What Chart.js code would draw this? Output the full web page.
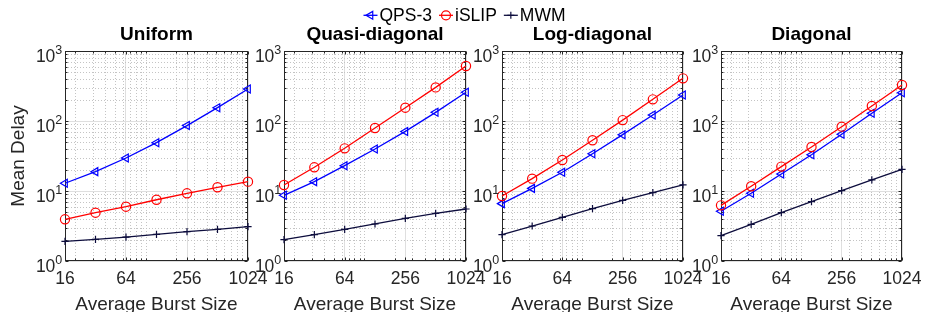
<!DOCTYPE html>
<html><head><meta charset="utf-8">
<script src="https://cdn.jsdelivr.net/npm/chart.js@4.4.1/dist/chart.umd.min.js"></script>
<style>
html,body{margin:0;padding:0;background:#fff;overflow:hidden;width:925px;height:312px;}
canvas{position:absolute;left:0;top:0;}
</style></head><body>
<canvas id="c0" width="940" height="320"></canvas>
<canvas id="c1" width="940" height="320"></canvas>
<canvas id="c2" width="940" height="320"></canvas>
<canvas id="c3" width="940" height="320"></canvas>
<script>
// ---------------- data ----------------
const burstSizes = [16, 32, 64, 128, 256, 512, 1024];
const panelTitles = ['Uniform', 'Quasi-diagonal', 'Log-diagonal', 'Diagonal'];
const seriesNames = ['QPS-3', 'iSLIP', 'MWM'];
const xTickValues = [16, 64, 256, 1024];
const yTickValues = [1, 10, 100, 1000];

const uniformQPS3  = [12.9, 18.9, 29.6, 49, 86, 155, 286];
const uniformISLIP = [3.94, 4.9, 5.97, 7.5, 9.27, 11.3, 13.6];
const uniformMWM   = [1.91, 2.04, 2.2, 2.4, 2.62, 2.83, 3.09];

const quasiQPS3  = [8.68, 13.6, 23, 39.8, 71, 133, 257];
const quasiISLIP = [12.2, 21.8, 40.7, 79.5, 155, 302, 611];
const quasiMWM   = [2.02, 2.38, 2.83, 3.38, 4.07, 4.8, 5.53];

const logQPS3  = [6.6, 10.9, 18.5, 34, 63.8, 122, 235];
const logISLIP = [8.48, 15, 27.7, 53, 103, 204, 407];
const logMWM   = [2.38, 3.16, 4.2, 5.6, 7.36, 9.46, 12.2];

const diagQPS3  = [5.13, 9.27, 17.5, 33, 64.6, 129, 253];
const diagISLIP = [6.24, 11.7, 22.3, 42.5, 83, 164, 327];
const diagMWM   = [2.3, 3.34, 4.9, 7.04, 10.1, 14.4, 20.4];

// ---------------- styling / layout ----------------
const FONT = "'Liberation Sans', Arial, Helvetica, sans-serif";
const COLORS = ['#0000ff', '#ff0000', '#0d0d3d'];
const CW = 940, CH = 320, TOP = 51, BOTTOM = 261, YAXW = 60;
const plotAreas = [[65, 248], [284, 466], [502, 683], [721, 902]];
const AXIS_COLOR = '#262626';

const xMinor = [];
[10, 100, 1000].forEach(d => { for (let k = 1; k <= 9; k++) xMinor.push(k * d); });
const yMinor = [];
[1, 10, 100].forEach(d => { for (let k = 2; k <= 9; k++) yMinor.push(k * d); });

function drawMarker(ctx, style, x, y, color) {
  ctx.save();
  ctx.strokeStyle = color; ctx.lineWidth = 1.2; ctx.setLineDash([]);
  ctx.beginPath();
  if (style === 'triangle') {
    const r = 4.5;
    for (let i = 0; i < 3; i++) {
      const a = Math.PI + i * 2 * Math.PI / 3;
      const px = x + Math.cos(a) * r, py = y + Math.sin(a) * r;
      if (i === 0) ctx.moveTo(px, py); else ctx.lineTo(px, py);
    }
    ctx.closePath();
  } else if (style === 'circle') {
    ctx.arc(x, y, 4.5, 0, Math.PI * 2);
  } else {
    ctx.moveTo(x - 3.5, y); ctx.lineTo(x + 3.5, y);
    ctx.moveTo(x, y - 3.5); ctx.lineTo(x, y + 3.5);
  }
  ctx.stroke();
  ctx.restore();
}

const matlabAxes = {
  id: 'matlabAxes',
  beforeDatasetsDraw(chart) {
    const { ctx, chartArea: a, scales: { x, y } } = chart;
    const L = Math.round(a.left) + 0.5, R = Math.round(a.right) - 0.5;
    const T = Math.round(a.top) + 0.5, B = Math.round(a.bottom) - 0.5;
    ctx.save();
    // minor dotted grid
    ctx.beginPath(); ctx.rect(a.left, a.top, a.right - a.left, a.bottom - a.top); ctx.clip();
    ctx.strokeStyle = '#c4c4c4'; ctx.lineWidth = 1; ctx.setLineDash([1, 2]);
    ctx.beginPath();
    xMinor.forEach(v => {
      if (v <= x.min || v >= x.max) return;
      const px = Math.round(x.getPixelForValue(v)) + 0.5;
      ctx.moveTo(px, a.top); ctx.lineTo(px, a.bottom);
    });
    yMinor.forEach(v => {
      const py = Math.round(y.getPixelForValue(v)) + 0.5;
      ctx.moveTo(a.left, py); ctx.lineTo(a.right, py);
    });
    ctx.stroke();
    ctx.restore();

    ctx.save();
    ctx.strokeStyle = AXIS_COLOR; ctx.lineWidth = 1; ctx.setLineDash([]);
    ctx.beginPath();
    // inward ticks
    const tickX = (v, len) => {
      const px = Math.round(x.getPixelForValue(v)) + 0.5;
      ctx.moveTo(px, B); ctx.lineTo(px, B - len);
      ctx.moveTo(px, T); ctx.lineTo(px, T + len);
    };
    const tickY = (v, len) => {
      const py = Math.round(y.getPixelForValue(v)) + 0.5;
      ctx.moveTo(L, py); ctx.lineTo(L + len, py);
      ctx.moveTo(R, py); ctx.lineTo(R - len, py);
    };
    xMinor.forEach(v => { if (v > x.min && v < x.max) tickX(v, 2); });
    xTickValues.forEach(v => tickX(v, 3));
    yMinor.forEach(v => tickY(v, 2));
    yTickValues.forEach(v => tickY(v, 3));
    ctx.stroke();
    // box
    ctx.strokeRect(L, T, R - L, B - T);
    ctx.restore();
  },
  afterDraw(chart, args, opts) {
    const { ctx, chartArea: a, scales: { y } } = chart;
    ctx.save();
    ctx.fillStyle = AXIS_COLOR;
    ctx.textBaseline = 'alphabetic';
    ctx.textAlign = 'left';
    yTickValues.forEach(v => {
      const py = y.getPixelForValue(v);
      const exp = String(Math.round(Math.log10(v)));
      ctx.font = `12.5px ${FONT}`;
      const ew = ctx.measureText(exp).width;
      const ex = a.left - 2.7 - ew;
      ctx.fillText(exp, ex, py + 2.5);
      ctx.font = `17.5px ${FONT}`;
      const bw = ctx.measureText('10').width;
      ctx.fillText('10', ex - bw, py + 10.5);
    });
    if (opts.legend) {
      ctx.font = `17.5px ${FONT}`;
      const styles = ['triangle', 'circle', 'cross'];
      const lineLen = 14, gapText = 2, gapItem = 7;
      const widths = seriesNames.map(n => ctx.measureText(n).width);
      const total = widths.reduce((s, w) => s + w + lineLen + gapText, 0) + gapItem * (seriesNames.length - 1);
      let cx = 464.5 - total / 2;
      const cy = 15.3;
      seriesNames.forEach((n, i) => {
        ctx.save();
        ctx.strokeStyle = COLORS[i]; ctx.lineWidth = 1.3;
        ctx.beginPath(); ctx.moveTo(cx, cy); ctx.lineTo(cx + lineLen, cy); ctx.stroke();
        ctx.restore();
        drawMarker(ctx, styles[i], cx + lineLen / 2, cy, COLORS[i]);
        cx += lineLen + gapText;
        ctx.fillStyle = '#000';
        ctx.fillText(n, cx, 21);
        cx += widths[i] + gapItem;
      });
    }
    ctx.restore();
  }
};

function pts(arr) { return burstSizes.map((b, k) => ({ x: b, y: arr[k] })); }

function makePanel(idx, qps, islip, mwm) {
  const [L, R] = plotAreas[idx];
  const common = { backgroundColor: 'rgba(0,0,0,0)', pointBackgroundColor: 'rgba(0,0,0,0)', borderWidth: 1.3, pointBorderWidth: 1.2, tension: 0, clip: false };
  new Chart(document.getElementById('c' + idx), {
    type: 'line',
    data: {
      datasets: [
        Object.assign({ label: seriesNames[0], data: pts(qps), borderColor: COLORS[0], pointBorderColor: COLORS[0], pointStyle: 'triangle', pointRotation: -90, pointRadius: 4.6, order: 3 }, common),
        Object.assign({ label: seriesNames[1], data: pts(islip), borderColor: COLORS[1], pointBorderColor: COLORS[1], pointStyle: 'circle', pointRadius: 4.6, order: 2 }, common),
        Object.assign({ label: seriesNames[2], data: pts(mwm), borderColor: COLORS[2], pointBorderColor: COLORS[2], pointStyle: 'cross', pointRadius: 3.6, order: 1 }, common)
      ]
    },
    options: {
      responsive: false, animation: false, devicePixelRatio: 1,
      events: [],
      layout: { padding: { left: L - YAXW, right: CW - R, top: 0, bottom: 0 } },
      plugins: {
        legend: { display: false }, tooltip: { enabled: false },
        title: { display: true, text: panelTitles[idx], fullSize: false, color: '#000',
                 font: { family: FONT, size: 19, weight: 'bold', lineHeight: 1.2 },
                 padding: { top: 23.7, bottom: 4.5 } },
        matlabAxes: { legend: idx === 0 }
      },
      scales: {
        x: {
          type: 'logarithmic', min: 16, max: 1024,
          afterBuildTicks(s) { s.ticks = xTickValues.map(v => ({ value: v })); },
          afterFit(s) { s.height = CH - BOTTOM; },
          ticks: { autoSkip: false, maxRotation: 0, minRotation: 0, padding: 8, color: AXIS_COLOR,
                   font: { family: FONT, size: 17.5, lineHeight: 1.2 }, callback: v => String(v) },
          grid: { color: '#dfdfdf', lineWidth: 1, drawTicks: false },
          border: { display: false },
          title: { display: true, text: 'Average Burst Size', color: AXIS_COLOR,
                   font: { family: FONT, size: 19, lineHeight: 1.2 }, padding: { top: 0, bottom: 3.4 } }
        },
        y: {
          type: 'logarithmic', min: 1, max: 1000,
          afterBuildTicks(s) { s.ticks = yTickValues.map(v => ({ value: v })); },
          afterFit(s) { s.width = YAXW; },
          ticks: { display: false },
          grid: { color: '#dfdfdf', lineWidth: 1, drawTicks: false },
          border: { display: false },
          title: { display: idx === 0, text: 'Mean Delay', color: AXIS_COLOR,
                   font: { family: FONT, size: 19, lineHeight: 1.2 }, padding: { top: 2, bottom: 0 } }
        }
      }
    },
    plugins: [matlabAxes]
  });
}

makePanel(0, uniformQPS3, uniformISLIP, uniformMWM);
makePanel(1, quasiQPS3, quasiISLIP, quasiMWM);
makePanel(2, logQPS3, logISLIP, logMWM);
makePanel(3, diagQPS3, diagISLIP, diagMWM);
</script>
</body></html>
